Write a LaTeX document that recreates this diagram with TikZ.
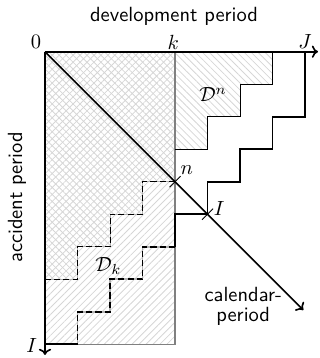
\documentclass[tikz,border=0pt]{standalone}
\usepackage{amsmath}
\usetikzlibrary{arrows.meta, patterns.meta, calc}

\begin{document}
\begin{tikzpicture}[
  x=0.557cm, y=0.557cm,
  every node/.style={font=\sffamily},
  axis/.style={thick, -{To[length=3pt, width=6pt]}},
  hatchne/.style={pattern={Lines[angle=45, distance=2.4pt, line width=0.4pt]}, pattern color=black!16},
  hatchnw/.style={pattern={Lines[angle=-45, distance=2.4pt, line width=0.4pt]}, pattern color=black!16},
  border/.style={gray, semithick},
  stair/.style={thick},
  dashstair/.style={dash pattern=on 3pt off 1.5pt},
  tickmark/.style={thin},
]
\useasboundingbox (-1.385,-9.425) rectangle (8.46,1.59);

\coordinate (O) at (0,0);
\coordinate (K) at (4,0);
\coordinate (J) at (8,0);
\coordinate (I) at (0,-9);
\coordinate (KI) at (4,-9);
\coordinate (n) at (4,-4);
\coordinate (Ic) at (5,-5);
\coordinate (xend) at (8.4,0);
\coordinate (yend) at (0,-9.33);
\coordinate (cend) at (7.95,-7.95);

% hatched regions
\fill[hatchne] (O) rectangle (KI);
\fill[hatchnw] (O) -| (7,-1) -| (6,-2) -| (5,-3) -| (n) -| (3,-5) -| (2,-6) -| (1,-7) -- (0,-7) -- cycle;

\draw[border] (K) -- (KI) -- (I);

% D^n staircase
\draw[thin] (7,0) |- (6,-1) |- (5,-2) |- (4,-3);

% D_k upper staircase
\draw[gray!60] (n) -| (3,-5) -| (2,-6) -| (1,-7) -- (0,-7);
\draw[thin, dashstair] (n) -| (3,-5) -| (2,-6) -| (1,-7) -- (0,-7);

% outer staircase
\draw[stair] (J) |- (7,-2) |- (6,-3) |- (5,-4) |- (4,-5) -- (4,-6);
\draw[stair, gray!60] (4,-6) -| (3,-7) -| (2,-8) -| (1,-9);
\draw[stair, dashstair] (4,-6) -| (3,-7) -| (2,-8) -| (1,-9);
\draw[stair] (1,-9) -- (I);

% axes
\draw[axis] (O) -- (xend);
\draw[axis] (O) -- (yend);
\draw[axis] (O) -- (cend);

\draw[tickmark] ($(n)+(-0.17,-0.17)$) -- ($(n)+(0.17,0.17)$);
\draw[tickmark] ($(Ic)+(-0.17,-0.17)$) -- ($(Ic)+(0.17,0.17)$);

% labels
\node (lab0) at (-0.28,0.3) {$0$};
\node (labk) at (3.95,0.3) {$k$};
\node (labJ) at (8,0.31) {$J$};
\node (labI) at (-0.41,-9.05) {$I$};
\node (labn) at (4.36,-3.64) {$n$};
\node (labIc) at (5.36,-4.82) {$I$};
\node (labDn) at (5.17,-1.33) {$\mathcal{D}^n$};
\node (labDk) at (1.95,-6.6) {$\mathcal{D}_k$};
\node (dev) at (3.97,1.1) {development period};
\node[rotate=90] (acc) at (-0.86,-4.48) {accident period};
\node[align=center] (cal) at (6.1,-7.83) {calendar-\\[-2.5pt]period};
\end{tikzpicture}
\end{document}
